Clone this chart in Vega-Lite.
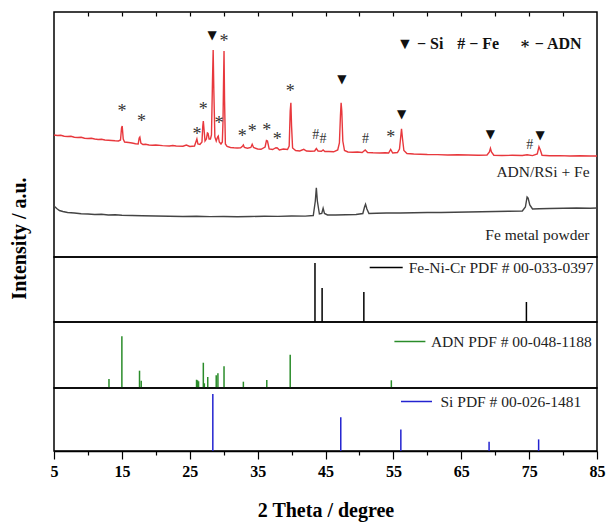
{
  "$schema": "https://vega.github.io/schema/vega-lite/v6.json",
  "padding": {"left": 8, "top": 10, "right": 5, "bottom": 2},
  "config": {"view": {"stroke": "black", "strokeWidth": 1.5}, "font": "Liberation Serif, Times New Roman, Tinos, Nimbus Roman, DejaVu Serif, serif", "axis": {"grid": false}},
  "datasets": {
    "red": [
      {"t":5.0,"i":122},{"t":5.5,"i":121.5},{"t":6.0,"i":121.7},{"t":6.5,"i":120.8},{"t":7.0,"i":120.5},{"t":7.5,"i":120.7},{"t":8.0,"i":119.8},{"t":8.5,"i":119.5},{"t":9.0,"i":119.7},{"t":9.5,"i":118.8},{"t":10.0,"i":118.5},{"t":10.5,"i":118.7},{"t":11.0,"i":118},{"t":11.5,"i":117.5},{"t":12.0,"i":117.7},{"t":12.5,"i":117},{"t":13.0,"i":116.8},{"t":13.5,"i":116.5},{"t":14.0,"i":116.2},{"t":14.5,"i":116},{"t":14.8,"i":117},{"t":14.95,"i":129},{"t":15.05,"i":131},{"t":15.2,"i":118},{"t":15.4,"i":115},{"t":16.0,"i":114.5},{"t":16.5,"i":114},{"t":17.0,"i":113.2},{"t":17.4,"i":113},{"t":17.55,"i":119},{"t":17.65,"i":120},{"t":17.8,"i":114},{"t":18.1,"i":112.5},{"t":18.5,"i":112.7},{"t":19.0,"i":112},{"t":19.5,"i":111.7},{"t":20.0,"i":112},{"t":21.0,"i":111.4},{"t":22.0,"i":111},{"t":22.5,"i":111.5},{"t":23.0,"i":111},{"t":24.0,"i":110.8},{"t":24.5,"i":112},{"t":25.0,"i":110.5},{"t":25.7,"i":111},{"t":25.95,"i":116},{"t":26.05,"i":118},{"t":26.2,"i":113},{"t":26.5,"i":112.5},{"t":26.8,"i":115},{"t":26.92,"i":131},{"t":27.0,"i":136},{"t":27.1,"i":128},{"t":27.25,"i":116},{"t":27.45,"i":118},{"t":27.6,"i":124},{"t":27.7,"i":123.5},{"t":27.85,"i":118},{"t":28.05,"i":118},{"t":28.2,"i":122},{"t":28.35,"i":176},{"t":28.45,"i":207},{"t":28.55,"i":166},{"t":28.7,"i":120},{"t":28.9,"i":116},{"t":29.1,"i":120},{"t":29.2,"i":121},{"t":29.35,"i":115},{"t":29.6,"i":113},{"t":29.8,"i":115},{"t":29.9,"i":136},{"t":29.97,"i":171},{"t":30.05,"i":206},{"t":30.13,"i":156},{"t":30.25,"i":113},{"t":30.5,"i":110.5},{"t":31.0,"i":109.5},{"t":31.5,"i":109.2},{"t":32.0,"i":109},{"t":32.5,"i":109.2},{"t":32.8,"i":111},{"t":32.9,"i":112},{"t":33.05,"i":109.5},{"t":33.5,"i":108.8},{"t":34.0,"i":109.5},{"t":34.2,"i":112.7},{"t":34.4,"i":109.5},{"t":35.0,"i":108},{"t":35.5,"i":107.7},{"t":36.1,"i":110},{"t":36.3,"i":116.5},{"t":36.45,"i":116},{"t":36.7,"i":108},{"t":37.2,"i":107.5},{"t":37.7,"i":109.3},{"t":37.9,"i":109},{"t":38.2,"i":107},{"t":38.8,"i":108},{"t":39.4,"i":107.5},{"t":39.65,"i":111},{"t":39.8,"i":146},{"t":39.9,"i":154.3},{"t":40.0,"i":131},{"t":40.15,"i":109},{"t":40.6,"i":106.5},{"t":41.2,"i":106},{"t":41.8,"i":107.7},{"t":42.2,"i":106},{"t":42.8,"i":105.7},{"t":43.4,"i":106},{"t":43.65,"i":108.5},{"t":43.9,"i":106},{"t":44.4,"i":105.7},{"t":44.65,"i":107},{"t":44.9,"i":105.5},{"t":45.5,"i":105.5},{"t":46.2,"i":105.2},{"t":46.8,"i":107},{"t":47.05,"i":114},{"t":47.2,"i":141},{"t":47.3,"i":154.3},{"t":47.4,"i":146},{"t":47.55,"i":116},{"t":47.8,"i":106.5},{"t":48.3,"i":105},{"t":49.0,"i":104.7},{"t":49.7,"i":105},{"t":50.4,"i":104.5},{"t":50.85,"i":107},{"t":51.2,"i":104.5},{"t":52.0,"i":104.2},{"t":53.0,"i":104},{"t":53.8,"i":104.2},{"t":54.3,"i":104},{"t":54.6,"i":107.5},{"t":54.9,"i":104},{"t":55.6,"i":104.5},{"t":55.9,"i":108},{"t":56.05,"i":118},{"t":56.2,"i":128.3},{"t":56.35,"i":118},{"t":56.55,"i":106.5},{"t":57.0,"i":103.5},{"t":58.0,"i":103},{"t":59.0,"i":102.8},{"t":60.0,"i":102.5},{"t":61.5,"i":102.4},{"t":63.0,"i":102},{"t":64.5,"i":102.2},{"t":66.0,"i":102},{"t":67.5,"i":101.8},{"t":68.8,"i":102},{"t":69.15,"i":105},{"t":69.3,"i":108.7},{"t":69.45,"i":105},{"t":69.8,"i":101.8},{"t":71.0,"i":101.5},{"t":72.5,"i":101.7},{"t":74.0,"i":101.5},{"t":74.7,"i":102.2},{"t":75.5,"i":101.4},{"t":76.2,"i":103},{"t":76.45,"i":110.3},{"t":76.65,"i":107},{"t":76.9,"i":101.7},{"t":78.0,"i":101.2},{"t":79.5,"i":101.4},{"t":81.0,"i":101},{"t":82.5,"i":101.2},{"t":84.0,"i":101},{"t":85.0,"i":101}
    ],
    "gray": [
      {"t":5.0,"i":51},{"t":5.4,"i":48.5},{"t":5.8,"i":46.5},{"t":6.3,"i":45.5},{"t":7.0,"i":44.5},{"t":8.0,"i":44},{"t":9.0,"i":43.2},{"t":10.0,"i":43},{"t":11.0,"i":42.5},{"t":12.0,"i":42.7},{"t":13.0,"i":42},{"t":14.0,"i":42.2},{"t":15.0,"i":41.7},{"t":16.5,"i":41.5},{"t":18.0,"i":41.2},{"t":20.0,"i":41},{"t":22.0,"i":40.7},{"t":24.0,"i":40.5},{"t":26.0,"i":40.7},{"t":28.0,"i":40.4},{"t":30.0,"i":40.5},{"t":32.0,"i":40.3},{"t":34.0,"i":40.5},{"t":36.0,"i":40.7},{"t":38.0,"i":40.6},{"t":40.0,"i":41},{"t":42.0,"i":40.9},{"t":43.2,"i":41.5},{"t":43.5,"i":56},{"t":43.65,"i":69.3},{"t":43.8,"i":56},{"t":44.1,"i":43},{"t":44.45,"i":43.5},{"t":44.65,"i":48.7},{"t":44.85,"i":43.5},{"t":45.3,"i":42},{"t":46.5,"i":42},{"t":48.0,"i":42.2},{"t":49.5,"i":42.5},{"t":50.5,"i":43.5},{"t":50.75,"i":50},{"t":50.9,"i":52.7},{"t":51.1,"i":48},{"t":51.4,"i":43.5},{"t":52.5,"i":43.7},{"t":54.0,"i":44},{"t":56.0,"i":44},{"t":58.0,"i":44.2},{"t":60.0,"i":44.5},{"t":62.0,"i":44.5},{"t":64.0,"i":44.8},{"t":66.0,"i":45},{"t":68.0,"i":45.2},{"t":70.0,"i":45.5},{"t":72.0,"i":45.7},{"t":74.0,"i":46},{"t":74.45,"i":50},{"t":74.7,"i":60},{"t":74.85,"i":59},{"t":75.1,"i":52},{"t":75.5,"i":48},{"t":76.5,"i":48.2},{"t":78.0,"i":48.5},{"t":80.0,"i":48.7},{"t":82.0,"i":49},{"t":84.0,"i":48.8},{"t":85.0,"i":49}
    ],
    "stars": [
      {"t":15.0,"i":148.3,"s":"*"},{"t":17.9,"i":138.3,"s":"*"},{"t":26.05,"i":125.3,"s":"*"},{"t":27.0,"i":150,"s":"*"},{"t":29.3,"i":136,"s":"*"},{"t":30.05,"i":217.7,"s":"*"},{"t":32.75,"i":123.3,"s":"*"},{"t":34.2,"i":128,"s":"*"},{"t":36.35,"i":129.3,"s":"*"},{"t":37.9,"i":120,"s":"*"},{"t":39.8,"i":168.3,"s":"*"},{"t":54.6,"i":121.7,"s":"*"}
    ],
    "hashes": [
      {"t":43.55,"i":122.7,"s":"#"},{"t":44.65,"i":118.7,"s":"#"},{"t":50.9,"i":118.7,"s":"#"},{"t":75.1,"i":113.3,"s":"#"}
    ],
    "tris": [
      {"t":28.3,"i":221.7,"s":"▼"},{"t":47.4,"i":177.7,"s":"▼"},{"t":56.2,"i":142.7,"s":"▼"},{"t":69.3,"i":122.7,"s":"▼"},{"t":76.6,"i":121.7,"s":"▼"}
    ],
    "key": [
      {"t":55.55,"i":213,"s":"▼ − Si"},{"t":64.4,"i":213,"s":"# − Fe"},{"t":73.6,"i":213,"s":"∗ − ADN"}
    ],
    "names": [
      {"t":83.9,"i":85,"s":"ADN/RSi + Fe"},{"t":83.9,"i":22,"s":"Fe metal powder"}
    ],
    "fenicr": [
      {"t":43.45,"i":100,"p":"Fe-Ni-Cr PDF # 00-033-0397"},{"t":44.5,"i":57.6,"p":"Fe-Ni-Cr PDF # 00-033-0397"},{"t":50.65,"i":50.8,"p":"Fe-Ni-Cr PDF # 00-033-0397"},{"t":74.6,"i":33.9,"p":"Fe-Ni-Cr PDF # 00-033-0397"}
    ],
    "adn": [
      {"t":13.1,"i":17.4,"p":"ADN PDF # 00-048-1188"},{"t":15.0,"i":100,"p":"ADN PDF # 00-048-1188"},{"t":17.6,"i":33.5,"p":"ADN PDF # 00-048-1188"},{"t":17.85,"i":14.1,"p":"ADN PDF # 00-048-1188"},{"t":26.0,"i":16,"p":"ADN PDF # 00-048-1188"},{"t":26.15,"i":14.9,"p":"ADN PDF # 00-048-1188"},{"t":26.3,"i":13,"p":"ADN PDF # 00-048-1188"},{"t":27.0,"i":48.9,"p":"ADN PDF # 00-048-1188"},{"t":27.15,"i":9.1,"p":"ADN PDF # 00-048-1188"},{"t":27.65,"i":21.3,"p":"ADN PDF # 00-048-1188"},{"t":28.9,"i":24.6,"p":"ADN PDF # 00-048-1188"},{"t":29.15,"i":28.4,"p":"ADN PDF # 00-048-1188"},{"t":30.05,"i":42,"p":"ADN PDF # 00-048-1188"},{"t":32.9,"i":12.2,"p":"ADN PDF # 00-048-1188"},{"t":36.35,"i":15.5,"p":"ADN PDF # 00-048-1188"},{"t":39.8,"i":64.4,"p":"ADN PDF # 00-048-1188"},{"t":54.7,"i":14.9,"p":"ADN PDF # 00-048-1188"}
    ],
    "si": [
      {"t":28.4,"i":100,"p":"Si PDF # 00-026-1481"},{"t":47.25,"i":59.3,"p":"Si PDF # 00-026-1481"},{"t":56.1,"i":37.9,"p":"Si PDF # 00-026-1481"},{"t":69.1,"i":16.2,"p":"Si PDF # 00-026-1481"},{"t":76.4,"i":20.4,"p":"Si PDF # 00-026-1481"}
    ]
  },
  "vconcat": [
    {
      "width": 543, "height": 245,
      "encoding": {
        "x": {"field": "t", "type": "quantitative", "scale": {"domain": [5, 85], "nice": false},
              "axis": {"orient": "top", "values": [10,15,20,25,30,35,40,45,50,55,60,65,70,75,80], "labels": false, "domain": false, "tickSize": -4, "tickColor": "black", "tickWidth": 1.2, "title": null}},
        "y": {"field": "i", "type": "quantitative", "scale": {"domain": [0, 245], "nice": false},
              "axis": {"title": "Intensity / a.u.", "labels": false, "ticks": false, "domain": false, "titleFontSize": 20, "titleFontWeight": "bold", "titleColor": "black", "titleX": -35, "titleY": 226, "titleAngle": -90, "titleAlign": "center", "titleBaseline": "middle"}}
      },
      "layer": [
        {"data": {"name": "gray"}, "mark": {"type": "line", "color": "#444444", "strokeWidth": 1.4}},
        {"data": {"name": "red"}, "mark": {"type": "line", "color": "#e8383d", "strokeWidth": 1.4}},
        {"data": {"name": "stars"}, "mark": {"type": "text", "fontSize": 18, "color": "#333333", "baseline": "alphabetic", "dy": 8}, "encoding": {"text": {"field": "s"}}},
        {"data": {"name": "hashes"}, "mark": {"type": "text", "fontSize": 14, "color": "#333333", "baseline": "alphabetic", "dy": 5}, "encoding": {"text": {"field": "s"}}},
        {"data": {"name": "tris"}, "mark": {"type": "text", "font": "DejaVu Sans", "fontSize": 12, "color": "#111111", "baseline": "middle"}, "encoding": {"text": {"field": "s"}}},
        {"data": {"name": "key"}, "mark": {"type": "text", "fontSize": 16, "fontWeight": "bold", "color": "#111111", "align": "left", "baseline": "middle"}, "encoding": {"text": {"field": "s"}}},
        {"data": {"name": "names"}, "mark": {"type": "text", "fontSize": 15.5, "color": "#222222", "align": "right", "baseline": "middle"}, "encoding": {"text": {"field": "s"}}}
      ]
    },
    {
      "width": 543, "height": 65,
      "data": {"name": "fenicr"},
      "mark": {"type": "rule", "strokeWidth": 1.5},
      "encoding": {
        "x": {"field": "t", "type": "quantitative", "scale": {"domain": [5, 85], "nice": false}, "axis": null},
        "y": {"field": "i", "type": "quantitative", "scale": {"domain": [0, 110.2], "nice": false}, "axis": null},
        "y2": {"datum": 0},
        "color": {"field": "p", "type": "nominal", "scale": {"range": ["#000000"]},
                  "legend": {"orient": "none", "legendX": 314.7, "legendY": -7, "title": null, "padding": 0, "symbolType": "stroke", "symbolSize": 1089, "symbolStrokeWidth": 1.5, "labelOffset": 5, "labelFontSize": 15.5, "labelColor": "#222222", "labelLimit": 400}}
      }
    },
    {
      "width": 543, "height": 66,
      "data": {"name": "adn"},
      "mark": {"type": "rule", "strokeWidth": 1.5},
      "encoding": {
        "x": {"field": "t", "type": "quantitative", "scale": {"domain": [5, 85], "nice": false}, "axis": null},
        "y": {"field": "i", "type": "quantitative", "scale": {"domain": [0, 127.7], "nice": false}, "axis": null},
        "y2": {"datum": 0},
        "color": {"field": "p", "type": "nominal", "scale": {"range": ["#2a8c2a"]},
                  "legend": {"orient": "none", "legendX": 339.4, "legendY": 3, "title": null, "padding": 0, "symbolType": "stroke", "symbolSize": 961, "symbolStrokeWidth": 1.5, "labelOffset": 4.5, "labelFontSize": 15.5, "labelColor": "#222222", "labelLimit": 400}}
      }
    },
    {
      "width": 543, "height": 63,
      "data": {"name": "si"},
      "mark": {"type": "rule", "strokeWidth": 1.5},
      "encoding": {
        "x": {"field": "t", "type": "quantitative", "scale": {"domain": [5, 85], "nice": false},
              "axis": {"orient": "bottom", "values": [5,10,15,20,25,30,35,40,45,50,55,60,65,70,75,80,85], "labelExpr": "datum.value % 10 == 5 ? datum.label : ''", "labelFlush": false, "labelOverlap": false, "tickSize": {"condition": {"test": "datum.value % 10 == 5", "value": 8}, "value": 4}, "tickColor": "black", "tickWidth": 1.2, "domainColor": "black", "domainWidth": 1.5, "labelFontSize": 16, "labelFontWeight": "bold", "labelColor": "black", "labelPadding": 4, "title": "2 Theta / degree", "titleFontSize": 20, "titleFontWeight": "bold", "titleColor": "black", "titlePadding": 21}},
        "y": {"field": "i", "type": "quantitative", "scale": {"domain": [0, 110.5], "nice": false}, "axis": null},
        "y2": {"datum": 0},
        "color": {"field": "p", "type": "nominal", "scale": {"range": ["#2323d0"]},
                  "legend": {"orient": "none", "legendX": 346, "legendY": -3, "title": null, "padding": 0, "symbolType": "stroke", "symbolSize": 961, "symbolStrokeWidth": 1.5, "labelOffset": 7.5, "labelFontSize": 15.5, "labelColor": "#222222", "labelLimit": 400}}
      }
    }
  ],
  "spacing": 0,
  "bounds": "flush",
  "resolve": {"scale": {"color": "independent"}, "legend": {"color": "independent"}}
}
